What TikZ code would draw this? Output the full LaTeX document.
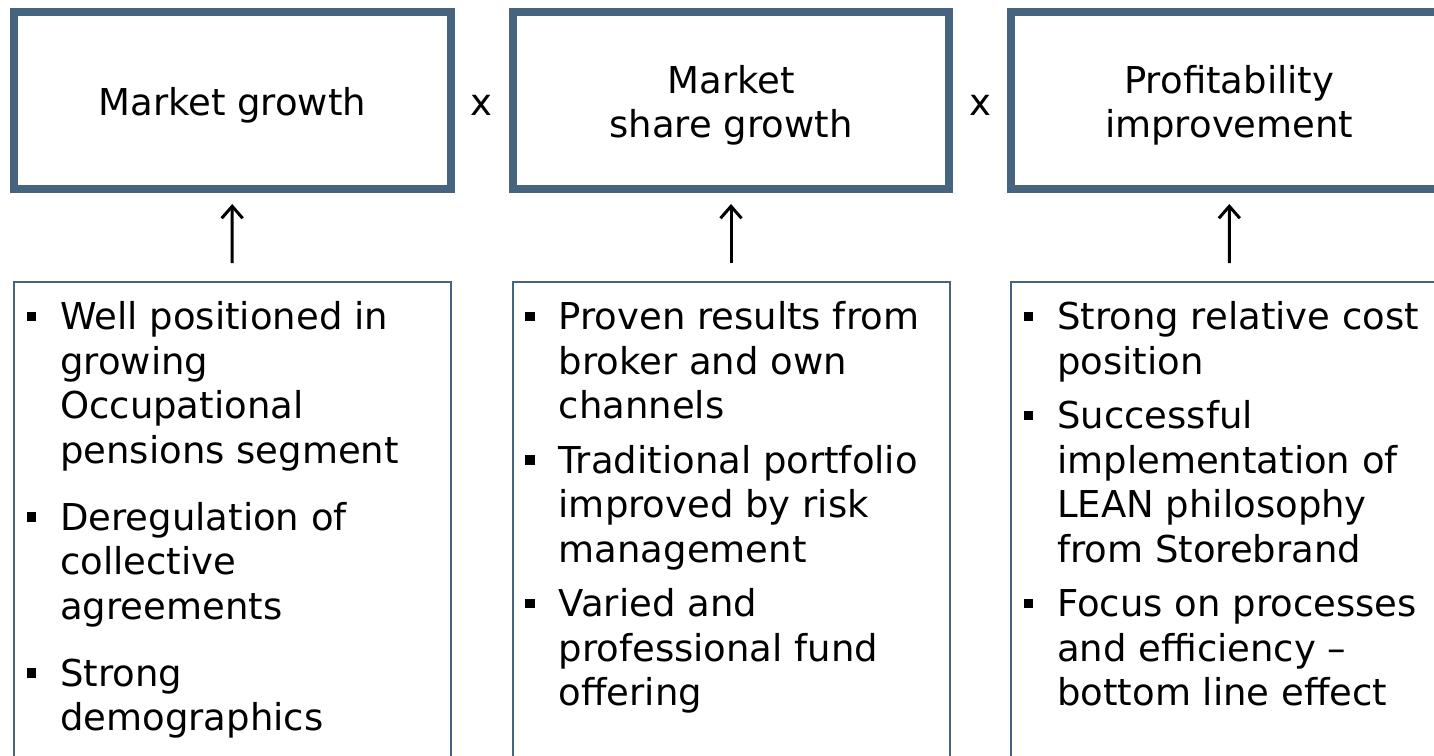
\documentclass[tikz,border=0pt]{standalone}
\usepackage{fontspec}
\setmainfont{DejaVu Sans}
\usetikzlibrary{arrows.meta}

\definecolor{frameblue}{RGB}{70,100,126}

% square bullets with a hanging indent
\newcommand\sqbullet{\rule[8.5pt]{9.5pt}{9.5pt}}
\newcommand\bitem{\par\noindent\hangindent=33.5pt\hangafter=1\makebox[33.5pt][l]{\sqbullet}}
\newcommand\bigfont{\fontsize{37}{44.5}\selectfont}

\tikzset{
  headbox/.style={draw=frameblue, line width=8pt, minimum width=436.5pt, minimum height=177pt, inner sep=0pt, outer sep=0pt},
  headtext/.style={font=\bigfont, align=center, inner sep=0pt},
  listbox/.style={draw=frameblue, line width=2pt, minimum width=437pt, minimum height=518pt, anchor=north, inner sep=0pt, outer sep=0pt},
  listtext/.style={font=\bigfont, anchor=base west, inner sep=0pt},
  lift/.style={line width=3pt, -{Straight Barb[length=12pt,width=21pt]}, shorten <=19pt, shorten >=15pt},
}

\begin{document}
\begin{tikzpicture}[x=1pt,y=-1pt]
    \useasboundingbox (0,0) rectangle (1434,755);
    \clip (0,0) rectangle (1434,755);
    \fill[white] (0,0) rectangle (1434,755);
    % top row: the three factors
    \node[headbox] (mkt) at (232.25,100.5) {};
    \node[headbox] (share) at (731,100.5) {};
    \node[headbox] (profit) at (1229.25,100.5) {};
    \node[headtext] (mkt-t) at ([yshift=-5pt]mkt.center) {Market growth};
    \node[headtext] (share-t) at ([yshift=-5pt]share.center) {Market\\share growth};
    \node[headtext] (profit-t) at ([yshift=-5pt]profit.center) {Profitability\\improvement};
    \node[headtext, anchor=base] (times1) at (481.5,115) {x};
    \node[headtext, anchor=base] (times2) at (980,115) {x};
    % bottom row: what drives each factor
    \node[listbox] (low-mkt) at (232,282) {};
    \node[listbox] (low-share) at (731,282) {};
    \node[listbox] (low-profit) at (1229.5,282) {};
    \node[listtext] (items-mkt) at ([shift={(13pt,-47.5pt)}]low-mkt.north west) {\parbox[t]{410pt}{\setlength\parskip{22.5pt}
        \bitem Well positioned in\\growing\\Occupational\\pensions segment
        \bitem Deregulation of\\collective\\agreements
        \bitem Strong\\demographics}};
    \node[listtext] (items-share) at ([shift={(12.5pt,-47.5pt)}]low-share.north west) {\parbox[t]{410pt}{\setlength\parskip{10pt}
        \bitem Proven results from\\broker and own\\channels
        \bitem Traditional portfolio\\improved by risk\\management
        \bitem Varied and\\professional fund\\offering}};
    \node[listtext] (items-profit) at ([shift={(12.5pt,-47.5pt)}]low-profit.north west) {\parbox[t]{410pt}{\setlength\parskip{10pt}
        \bitem Strong relative cost\\position
        \bitem Successful\\implementation of\\LEAN philosophy\\from Storebrand
        \bitem Focus on processes\\and efficiency --\\bottom line effect}};
    % arrows up into the boxes
    \draw[lift] (low-mkt.north) -- (mkt.south);
    \draw[lift] (low-share.north) -- (share.south);
    \draw[lift] (low-profit.north) -- (profit.south);
\end{tikzpicture}
\end{document}
